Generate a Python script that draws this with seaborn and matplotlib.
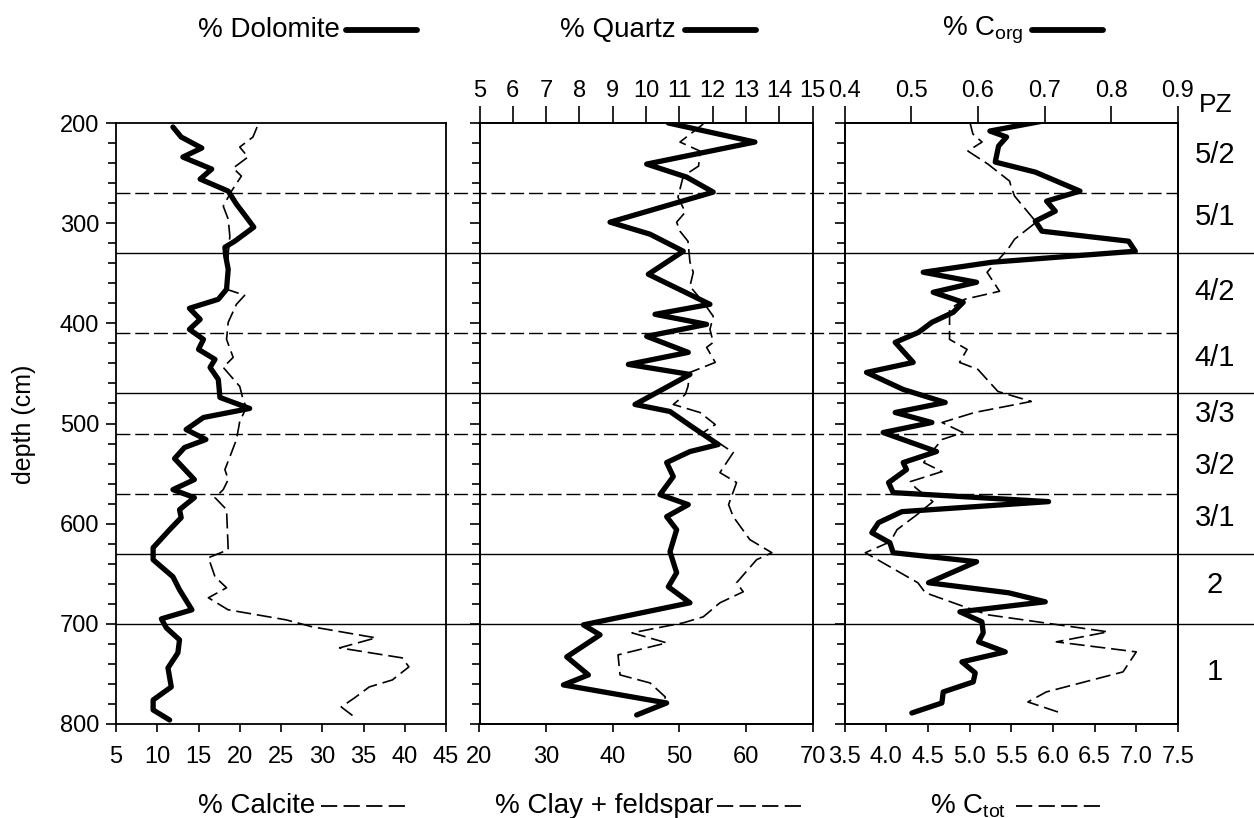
import numpy as np
import pandas as pd
import matplotlib
matplotlib.use("Agg")
import matplotlib.pyplot as plt
import seaborn as sns
from matplotlib.lines import Line2D
from matplotlib.transforms import blended_transform_factory
from matplotlib.ticker import MultipleLocator, FixedLocator, FormatStrFormatter

# ---------------- data ----------------
dolomite_depth = [204, 214, 225, 234, 246, 256, 268, 281, 294, 304, 318, 324, 333, 346, 366, 376, 385, 396,
                  406, 416, 426, 436, 444, 456, 474, 485, 494, 506, 516, 524, 535, 556, 566, 574, 586, 594,
                  606, 624, 636, 653, 666, 686, 695, 704, 716, 729, 744, 763, 776, 786, 796]
dolomite = [11.9, 12.9, 15.4, 13.1, 16.6, 15.2, 18.6, 19.6, 20.8, 21.7, 19.4, 18.2, 18.3, 18.6, 18.4, 17.4,
            13.9, 15.2, 13.9, 15.6, 15.0, 17.0, 16.4, 17.4, 17.6, 21.2, 15.6, 13.5, 15.9, 13.3, 12.1, 14.5,
            11.9, 14.5, 12.7, 12.9, 11.5, 9.5, 9.5, 11.9, 12.7, 14.2, 10.5, 11.1, 12.7, 12.5, 11.3, 11.7,
            9.5, 9.5, 11.5]

calcite_depth = [204, 214, 224, 234, 245, 253, 268, 283, 296, 313, 330, 350, 366, 372, 381, 399, 416, 434,
                 444, 463, 476, 484, 498, 516, 529, 546, 556, 566, 574, 586, 626, 634, 653, 664, 674, 686,
                 696, 703, 714, 724, 734, 743, 756, 763, 774, 783, 793]
calcite = [22.1, 21.6, 20.0, 21.0, 19.2, 20.2, 19.0, 18.0, 18.6, 18.8, 18.6, 18.5, 18.4, 20.6, 19.6, 18.6,
           18.4, 19.2, 18.0, 20.0, 20.4, 20.8, 20.0, 19.6, 19.0, 18.2, 18.6, 18.0, 17.0, 18.4, 18.6, 16.2,
           17.0, 18.4, 16.2, 18.6, 25.6, 28.8, 36.5, 32.1, 39.7, 40.5, 38.5, 35.7, 33.9, 32.3, 33.9]

quartz_depth = [200, 219, 241, 254, 269, 299, 311, 328, 351, 381, 391, 401, 413, 429, 441, 451, 481, 488,
                503, 521, 528, 539, 553, 571, 581, 593, 606, 628, 649, 663, 679, 701, 711, 733, 751, 761,
                779, 791]
quartz = [10.67, 13.27, 10.02, 11.22, 12.02, 8.92, 10.12, 11.12, 10.07, 11.92, 10.27, 11.82, 10.02, 11.27,
          9.47, 11.32, 9.67, 10.72, 11.37, 12.17, 11.32, 10.62, 10.82, 10.42, 11.27, 10.62, 10.92, 10.72,
          10.92, 10.67, 11.32, 8.12, 8.62, 7.62, 8.27, 7.52, 10.62, 9.72]

clay_depth = [201, 219, 228, 243, 253, 266, 274, 289, 299, 308, 318, 339, 349, 363, 379, 393, 406, 419,
              424, 439, 449, 463, 471, 481, 489, 501, 509, 529, 549, 559, 581, 593, 616, 629, 636, 659,
              668, 679, 693, 699, 709, 719, 731, 751, 759, 773, 779]
clay_feldspar = [53.6, 50.1, 53.1, 52.9, 50.6, 50.1, 49.8, 50.9, 49.6, 50.1, 51.3, 51.6, 52.1, 51.6, 53.6,
                 55.1, 54.6, 55.1, 54.1, 55.4, 51.6, 51.3, 50.9, 49.1, 53.1, 55.4, 53.6, 58.1, 56.1, 58.6,
                 57.4, 58.1, 60.6, 63.9, 61.6, 58.6, 59.6, 56.1, 53.6, 50.6, 42.9, 48.1, 40.8, 41.1, 45.6,
                 47.9, 47.6]

corg_depth = [198, 208, 214, 223, 239, 249, 268, 278, 288, 298, 308, 318, 328, 339, 349, 359, 369, 379,
              389, 399, 409, 419, 439, 449, 466, 479, 489, 499, 509, 528, 539, 546, 559, 569, 578, 588,
              599, 609, 619, 629, 638, 659, 669, 678, 688, 698, 709, 718, 728, 738, 749, 758, 768, 779, 789]
corg = [0.698, 0.618, 0.643, 0.631, 0.626, 0.686, 0.753, 0.703, 0.716, 0.686, 0.696, 0.826, 0.836, 0.621,
        0.518, 0.598, 0.533, 0.578, 0.563, 0.531, 0.511, 0.476, 0.503, 0.433, 0.488, 0.551, 0.476, 0.531,
        0.458, 0.538, 0.488, 0.493, 0.466, 0.473, 0.706, 0.486, 0.451, 0.441, 0.468, 0.473, 0.598, 0.526,
        0.646, 0.701, 0.573, 0.606, 0.608, 0.601, 0.641, 0.576, 0.596, 0.593, 0.548, 0.546, 0.501]

ctot_depth = [198, 211, 219, 228, 241, 258, 264, 273, 299, 316, 326, 349, 368, 376, 386, 402, 416, 426,
              439, 446, 468, 478, 489, 499, 509, 516, 526, 539, 548, 558, 564, 578, 591, 606, 618, 629,
              659, 669, 683, 691, 708, 718, 728, 748, 768, 778, 788]
ctot = [5.00, 5.04, 5.15, 4.98, 5.22, 5.48, 5.50, 5.54, 5.80, 5.54, 5.46, 5.21, 5.36, 4.94, 4.76, 4.76,
        4.76, 4.97, 4.88, 5.10, 5.34, 5.74, 5.06, 4.67, 4.92, 4.67, 4.57, 4.45, 4.67, 4.29, 4.35, 4.56,
        4.37, 4.13, 4.05, 3.75, 4.38, 4.47, 4.94, 5.22, 6.66, 6.04, 7.00, 6.84, 5.92, 5.70, 6.06]

zone_solid = [330, 470, 630, 700]
zone_dashed = [270, 410, 510, 570]
zone_labels = ["5/2", "5/1", "4/2", "4/1", "3/3", "3/2", "3/1", "2", "1"]
zone_label_depth = [232, 294, 369, 435, 491, 542, 594, 661, 748]

# ---------------- style ----------------
sns.set_theme(style="ticks")
plt.rcParams['font.family'] = ['Liberation Sans', 'DejaVu Sans']
plt.rcParams['mathtext.fontset'] = 'custom'
plt.rcParams['mathtext.rm'] = 'Liberation Sans'
plt.rcParams['mathtext.it'] = 'Liberation Sans'
plt.rcParams['axes.edgecolor'] = 'black'
plt.rcParams['axes.linewidth'] = 1.3
plt.rcParams['xtick.color'] = 'black'
plt.rcParams['ytick.color'] = 'black'
plt.rcParams['text.color'] = 'black'
plt.rcParams['xtick.labelcolor'] = 'black'
plt.rcParams['ytick.labelcolor'] = 'black'

W, H = 1254, 818
fig = plt.figure(figsize=(W / 100, H / 100), dpi=100)
fig.patch.set_facecolor('white')

def rect(x0, x1):
    return [x0 / W, 1 - 724 / H, (x1 - x0) / W, 601 / H]

axL = fig.add_axes(rect(116, 446))
axM = fig.add_axes(rect(479.5, 812.5))
axR = fig.add_axes(rect(844.5, 1178))
axMt = axM.twiny()
axRt = axR.twiny()

THICK = 3.8
THIN = 1.2
DASH = (0, (9, 3.5))

def curve(ax, x, y, thick):
    if thick:
        sns.lineplot(x=x, y=y, ax=ax, orient='y', sort=False, estimator=None,
                     color='black', lw=THICK, legend=False)
    else:
        sns.lineplot(x=x, y=y, ax=ax, orient='y', sort=False, estimator=None,
                     color='black', lw=THIN, linestyle=DASH, legend=False)

curve(axL, calcite, calcite_depth, False)
curve(axL, dolomite, dolomite_depth, True)
curve(axM, clay_feldspar, clay_depth, False)
curve(axMt, quartz, quartz_depth, True)
curve(axR, ctot, ctot_depth, False)
curve(axRt, corg, corg_depth, True)

TICKFS = 17
narrow = ['Liberation Sans Narrow', 'Liberation Sans', 'DejaVu Sans']

for ax in (axL, axM, axR):
    ax.set_ylim(800, 200)
    ax.yaxis.set_major_locator(MultipleLocator(100))
    ax.yaxis.set_minor_locator(MultipleLocator(20))
    ax.tick_params(axis='y', which='major', direction='out', length=7, width=1.2, left=True, right=False)
    ax.tick_params(axis='y', which='minor', direction='out', length=5.5, width=1.2, left=True, right=False)
    ax.tick_params(axis='x', which='both', direction='out', length=6, width=1.2, bottom=True, top=False,
                   labelsize=TICKFS, pad=10)
    ax.set_xlabel('')
    ax.set_ylabel('')

axL.set_xlim(5, 45)
axL.xaxis.set_major_locator(FixedLocator(np.arange(5, 46, 5)))
axL.tick_params(axis='y', labelsize=TICKFS, pad=5)
axL.set_yticks([200, 300, 400, 500, 600, 700, 800])
axL.set_yticklabels(['200', '300', '400', '500', '600', '700', '800'])
axM.tick_params(axis='y', labelleft=False)
axR.tick_params(axis='y', labelleft=False)

axM.set_xlim(20, 70)
axM.xaxis.set_major_locator(FixedLocator(np.arange(20, 71, 10)))
axR.set_xlim(3.5, 7.5)
axR.xaxis.set_major_locator(FixedLocator(np.arange(3.5, 7.51, 0.5)))
axR.xaxis.set_major_formatter(FormatStrFormatter('%.1f'))

for ax in (axL, axM, axR):
    for lab in ax.get_xticklabels():
        lab.set_family(narrow)

axMt.set_xlim(5, 15)
axMt.xaxis.set_major_locator(FixedLocator(np.arange(5, 16, 1)))
axRt.set_xlim(0.4, 0.9)
axRt.xaxis.set_major_locator(FixedLocator(np.arange(0.4, 0.91, 0.1)))
axRt.xaxis.set_major_formatter(FormatStrFormatter('%.1f'))
for ax in (axMt, axRt):
    ax.set_ylim(800, 200)
    ax.set_xlabel('')
    ax.tick_params(axis='x', which='both', direction='out', length=12, width=1.2, top=True, bottom=False,
                   labeltop=True, labelbottom=False, labelsize=TICKFS, pad=3)
    ax.tick_params(axis='y', left=False, right=False, labelleft=False, labelright=False)

fig.text(24 / W, 1 - 424 / H, 'depth (cm)', rotation=90, ha='center', va='center', fontsize=18)

# zone boundary lines spanning the panels
tr = blended_transform_factory(fig.transFigure, axL.transData)
for d in zone_dashed:
    fig.add_artist(Line2D([116 / W, 1178 / W], [d, d], transform=tr, color='black', lw=1.0,
                          linestyle=(0, (10, 3.5))))
for d in zone_solid:
    fig.add_artist(Line2D([116 / W, 1.0], [d, d], transform=tr, color='black', lw=1.0))

# PZ labels
trR = blended_transform_factory(fig.transFigure, axR.transData)
fig.text(1216 / W, 182, 'PZ', transform=trR, fontsize=19, ha='center', va='center')
for lab, d in zip(zone_labels, zone_label_depth):
    fig.text(1215 / W, d, lab, transform=trR, fontsize=21, ha='center', va='center')

# series labels
ytop = 1 - 30 / H
ybot = 1 - 806 / H
renderer = fig.canvas.get_renderer()

def legend_label(x_text, text, gap, length, y, thick):
    t = fig.text(x_text / W, y, text, fontsize=20, ha='left', va='center')
    ext = t.get_window_extent(renderer=renderer)
    x0 = ext.x1 + gap
    x1 = x0 + length
    if thick:
        fig.add_artist(Line2D([x0 / W, x1 / W], [y, y], color='black', lw=4.2,
                              solid_capstyle='round'))
    else:
        fig.add_artist(Line2D([x0 / W, x1 / W], [y, y], color='black', lw=1.3,
                              linestyle=(0, (9, 3.5))))

legend_label(198, '% Dolomite', 6, 71, ytop, True)
legend_label(560, '% Quartz', 9, 71, ytop, True)
legend_label(942, '% C$_\\mathregular{org}$', 8, 71, ytop, True)
legend_label(198, '% Calcite', 6, 84, ybot, False)
legend_label(495, '% Clay + feldspar', 4, 84, ybot, False)
legend_label(930, '% C$_\\mathregular{tot}$', 10, 84, ybot, False)

fig.savefig('out.png', dpi=100, facecolor='white')
